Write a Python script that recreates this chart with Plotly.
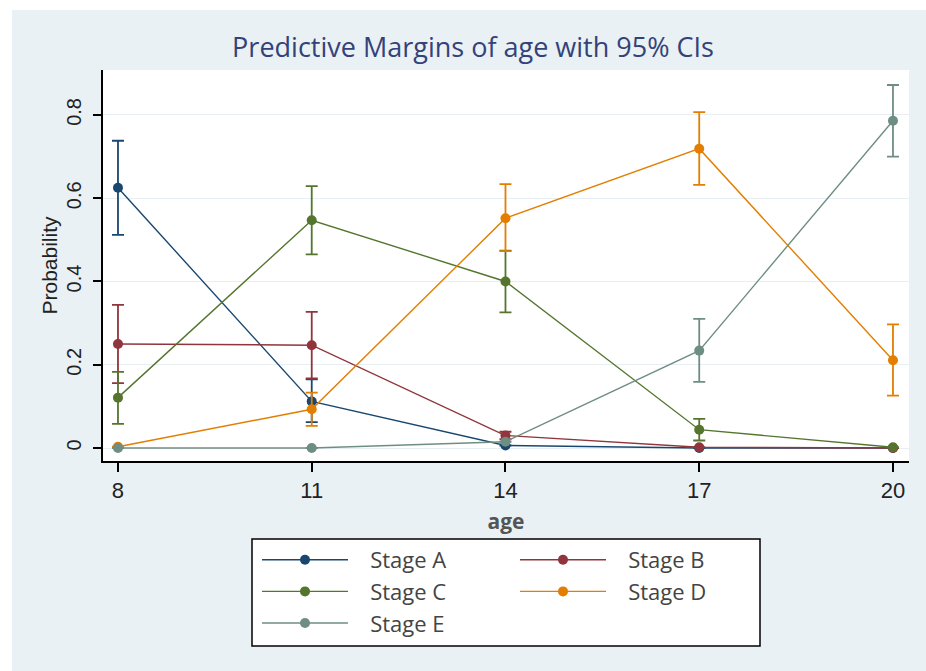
import plotly.graph_objects as go

# ---------------- data ----------------
ages = [8, 11, 14, 17, 20]
stage_names = ["Stage A", "Stage B", "Stage C", "Stage D", "Stage E"]

stage_a = [0.625, 0.112, 0.006, 0.000, 0.000]
stage_a_lo = [0.512, 0.062, 0.006, 0.000, 0.000]
stage_a_hi = [0.738, 0.165, 0.006, 0.000, 0.000]

stage_b = [0.250, 0.247, 0.030, 0.002, 0.000]
stage_b_lo = [0.156, 0.167, 0.021, 0.002, 0.000]
stage_b_hi = [0.344, 0.327, 0.039, 0.002, 0.000]

stage_c = [0.121, 0.547, 0.400, 0.044, 0.002]
stage_c_lo = [0.058, 0.465, 0.326, 0.018, 0.002]
stage_c_hi = [0.183, 0.629, 0.474, 0.070, 0.002]

stage_d = [0.003, 0.093, 0.552, 0.719, 0.211]
stage_d_lo = [0.003, 0.053, 0.473, 0.632, 0.126]
stage_d_hi = [0.003, 0.133, 0.634, 0.807, 0.297]

stage_e = [0.000, 0.000, 0.015, 0.234, 0.786]
stage_e_lo = [0.000, 0.000, 0.015, 0.159, 0.700]
stage_e_hi = [0.000, 0.000, 0.015, 0.310, 0.872]

y_ticks = [0, 0.2, 0.4, 0.6, 0.8]
y_tick_labels = ["0", "0.2", "0.4", "0.6", "0.8"]

title_text = "Predictive Margins of age with 95% CIs"
x_title = "age"
y_title = "Probability"

# ---------------- styling ----------------
colors = ["#1a476f", "#90353b", "#55752f", "#e37e00", "#6e8e84"]
legend_ids = ["legend", "legend2", "legend", "legend2", "legend"]
series = [
    (stage_a, stage_a_lo, stage_a_hi),
    (stage_b, stage_b_lo, stage_b_hi),
    (stage_c, stage_c_lo, stage_c_hi),
    (stage_d, stage_d_lo, stage_d_hi),
    (stage_e, stage_e_lo, stage_e_hi),
]

BG = "#e9f1f4"
NBSP = "\u00a0\u00a0\u00a0"

fig = go.Figure()
for i, (name, (vals, lo, hi)) in enumerate(zip(stage_names, series)):
    plus = [h - v for h, v in zip(hi, vals)]
    minus = [v - l for v, l in zip(vals, lo)]
    fig.add_trace(go.Scatter(
        x=ages, y=vals, name=NBSP + name, mode="lines+markers",
        line=dict(color=colors[i], width=1.4),
        marker=dict(color=colors[i], size=10, symbol="circle"),
        error_y=dict(type="data", symmetric=False, array=plus, arrayminus=minus,
                     color=colors[i], thickness=1.8, width=6),
        legend=legend_ids[i], legendgroup=name,
    ))

# geometry in screenshot pixels (page body margin removed below)
W, H = 926, 671
L, R, T, B = 103, 909, 70, 461          # plot area
pw, ph = R - L, B - T


def px(x):
    return (x - L) / pw


def py(y):
    return (B - y) / ph


shapes = [
    # thin white strips outside the light background (top & left)
    dict(type="rect", xref="paper", yref="paper", x0=px(0), x1=px(W), y0=py(0), y1=py(10),
         fillcolor="white", line=dict(width=0), layer="below"),
    dict(type="rect", xref="paper", yref="paper", x0=px(0), x1=px(12), y0=py(0), y1=py(H),
         fillcolor="white", line=dict(width=0), layer="below"),
    # legend box
    dict(type="rect", xref="paper", yref="paper", x0=px(252), x1=px(760), y0=py(539), y1=py(646),
         fillcolor="white", line=dict(color="black", width=1.5), layer="above"),
]

legend_common = dict(
    orientation="v", bgcolor="rgba(0,0,0,0)", borderwidth=0,
    font=dict(family="Open Sans", size=22, color="#444444"),
    itemwidth=86, tracegroupgap=0, traceorder="grouped",
    xanchor="left", yanchor="top", itemclick=False, itemdoubleclick=False,
)

fig.update_layout(
    width=W, height=H,
    paper_bgcolor=BG, plot_bgcolor="white",
    margin=dict(l=L, r=W - R, t=T, b=H - B, autoexpand=False),
    title=dict(text=title_text, x=473 / W, xanchor="center",
               y=1 - 48 / H, yanchor="middle",
               font=dict(family="Open Sans", size=27, color="#34427a")),
    xaxis=dict(range=[7.768, 20.248], tickvals=ages, ticktext=[str(a) for a in ages],
               showgrid=False, zeroline=False, showline=True, linecolor="black", linewidth=2,
               ticks="outside", ticklen=9, tickwidth=2, tickcolor="black",
               tickfont=dict(family="Liberation Sans", size=22, color="#222222"),
               title=dict(text="<b>" + x_title + "</b>", standoff=12,
                          font=dict(family="Open Sans", size=21, color="#555555"))),
    yaxis=dict(range=[-0.0312, 0.908], tickvals=y_ticks, ticktext=y_tick_labels,
               tickangle=-90, showgrid=True, gridcolor="#e8eff3", gridwidth=1,
               zeroline=False, showline=True, linecolor="black", linewidth=2,
               ticks="outside", ticklen=8, tickwidth=2, tickcolor="black",
               ticklabelstandoff=4,
               tickfont=dict(family="Liberation Sans", size=20, color="#222222"),
               title=dict(text=y_title, standoff=0,
                          font=dict(family="Liberation Sans", size=21, color="#222222"))),
    legend=dict(x=px(257), y=py(539), **legend_common),
    legend2=dict(x=px(515), y=py(539), **legend_common),
    shapes=shapes,
    showlegend=True,
)

fig.write_html(
    "out.html",
    config={"displayModeBar": False},
    post_script="document.body.style.margin='0';document.body.style.overflow='hidden';",
)
